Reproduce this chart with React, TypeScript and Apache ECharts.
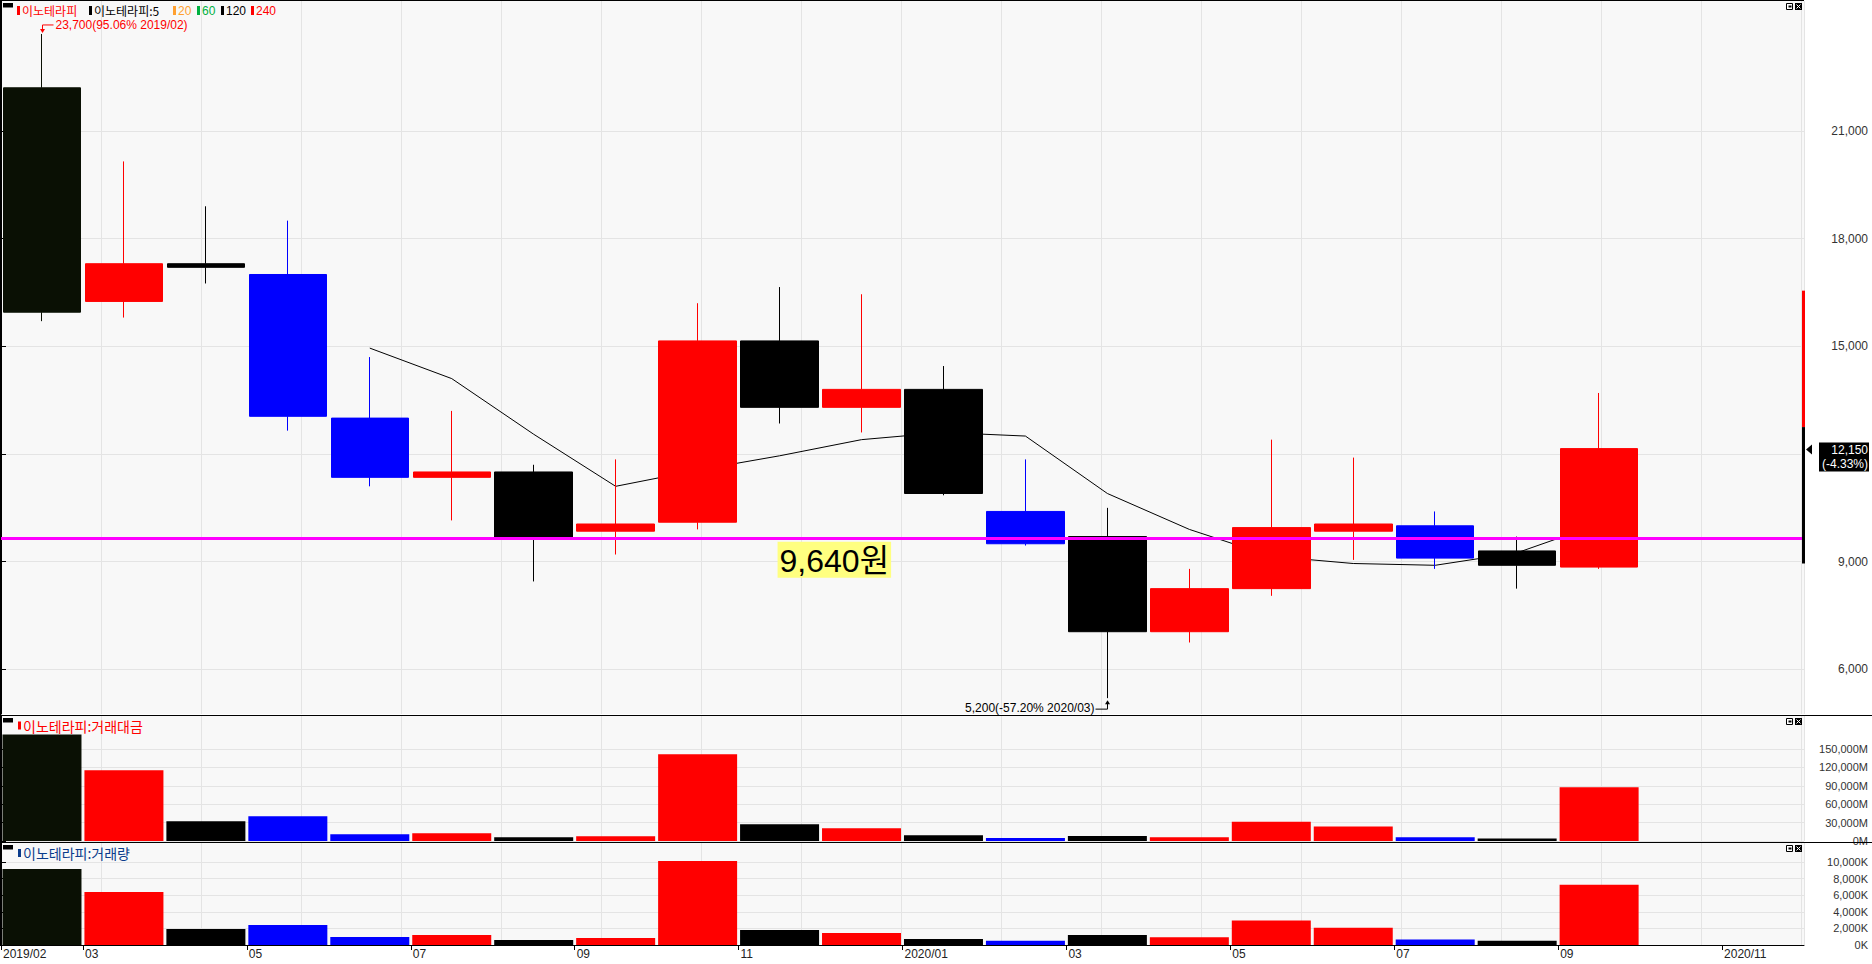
import React, { useEffect, useRef } from 'react';
import * as echarts from 'echarts';

// ---------- data ----------
const months = [
  '2019/02', '2019/03', '2019/04', '2019/05', '2019/06', '2019/07', '2019/08', '2019/09', '2019/10', '2019/11', '2019/12',
  '2020/01', '2020/02', '2020/03', '2020/04', '2020/05', '2020/06', '2020/07', '2020/08', '2020/09', '2020/10', '2020/11',
];
// labels at month boundaries (left edge of each month slot)
const tickLabels = ['2019/02', '03', '', '05', '', '07', '', '09', '', '11', '', '2020/01', '', '03', '', '05', '', '07', '', '09', '', '2020/11', ''];

const opens = [22200, 16250, 17300, 17000, 13000, 11350, 11500, 9850, 10100, 15150, 13300, 13800, 10400, 9700, 7050, 8250, 9850, 10000, 9300, 8850];
const closes = [15950, 17300, 17200, 13050, 11350, 11500, 9650, 10050, 15150, 13300, 13800, 10900, 9500, 7050, 8250, 9950, 10050, 9100, 8900, 12150];
const lows = [15700, 15800, 16750, 12650, 11100, 10150, 8450, 9200, 9900, 12850, 12600, 10850, 9450, 5200, 6750, 8050, 9050, 8800, 8250, 8800];
const highs = [23700, 20150, 18900, 18500, 14700, 13200, 11700, 11850, 16200, 16650, 16450, 14450, 11850, 10500, 8800, 12400, 11900, 10400, 9700, 13700];
const candleColors = [
  '#0a1004', '#ff0000', '#000000', '#0000ff', '#0000ff', '#ff0000', '#000000', '#ff0000', '#ff0000', '#000000',
  '#ff0000', '#000000', '#0000ff', '#000000', '#ff0000', '#ff0000', '#ff0000', '#0000ff', '#000000', '#ff0000',
];
const ma5 = [null, null, null, null, 14950, 14100, 12550, 11100, 11550, 11950, 12400, 12600, 12500, 10900, 9900, 9150, 8950, 8900, 9250, 10050];
// 거래대금 (백만원)
const tradeValue = [174000, 115300, 32100, 40300, 10900, 12500, 6000, 7700, 141400, 27200, 20700, 9300, 5000, 8000, 6000, 31300, 23500, 6000, 4100, 87800];
// 거래량 (천주)
const volume = [9160, 6390, 1930, 2410, 960, 1200, 600, 840, 10120, 1810, 1450, 720, 520, 1220, 940, 2950, 2080, 650, 500, 7260];

const priceTicks = [6000, 9000, 12000, 15000, 18000, 21000];
const priceLabels = [6000, 9000, 15000, 18000, 21000];
const valueTicks = [0, 30000, 60000, 90000, 120000, 150000];
const volumeTicks = [0, 2000, 4000, 6000, 8000, 10000];

const supportLevel = 9640;
const supportText = '9,640원';
const highMark = { idx: 0, value: 23700, text: '23,700(95.06% 2019/02)' };
const lowMark = { idx: 13, value: 5200, text: '5,200(-57.20% 2020/03)' };
const lastPrice = 12150;
const lastChange = '(-4.33%)';
const sideRange = [16550, 12750, 8950];

const legendMain = [
  { text: '이노테라피', color: '#ff0000', bar: '#ff0000', x: 17 },
  { text: '이노테라피:5', color: '#000000', bar: '#000000', x: 89 },
  { text: '20', color: '#ffa030', bar: '#ffa030', x: 173 },
  { text: '60', color: '#00b040', bar: '#00b040', x: 197 },
  { text: '120', color: '#000000', bar: '#000000', x: 221 },
  { text: '240', color: '#ff0000', bar: '#ff0000', x: 251 },
];
const legendValue = { text: '이노테라피:거래대금', color: '#ff0000' };
const legendVolume = { text: '이노테라피:거래량', color: '#0a3c8c' };

// ---------- layout ----------
const W = 1872;
const H = 964;
const GL = 1;
const GW = 1803;
const AX = GL + GW; // right axis x
const LBL = "'Liberation Sans', Arial, sans-serif";
const KR = "'Noto Sans CJK KR', 'Liberation Sans', sans-serif";
const GRID_COLOR = '#e4e4e4';
const fmt = (v: number) => Math.round(v).toLocaleString('en-US');

function buildOption(): any {
  const gridBase = { left: GL, width: GW, show: true, backgroundColor: '#f8f8f8', borderWidth: 0 };
  const hiddenCat = (gi: number) => ({
    type: 'category', gridIndex: gi, data: months, boundaryGap: true, show: false,
  });
  const vGrid = (gi: number) => ({
    type: 'value', gridIndex: gi, min: 0, max: GW, interval: 100, position: 'top',
    axisLine: { show: false }, axisTick: { show: false }, axisLabel: { show: false },
    splitLine: { show: true, lineStyle: { color: GRID_COLOR, width: 1 } },
  });
  const yAx = (gi: number, min: number, max: number, ticks: number[], labels: number[], suffix: string, size: number) => ({
    type: 'value', gridIndex: gi, position: 'right', min, max,
    axisLine: { show: true, lineStyle: { color: '#000', width: 1 } },
    axisTick: { show: true, inside: false, length: 5, customValues: ticks, lineStyle: { color: '#000' } },
    axisLabel: {
      show: true, customValues: labels, align: 'right', margin: 64,
      color: '#333', fontFamily: LBL, fontSize: size,
      formatter: (v: number) => fmt(v) + suffix,
    },
    splitLine: { show: true, lineStyle: { color: GRID_COLOR, width: 1 } },
  });

  const candleData = opens.map((o, i) => ({
    value: [o, closes[i], lows[i], highs[i]],
    itemStyle: {
      color: candleColors[i], color0: candleColors[i],
      borderColor: candleColors[i], borderColor0: candleColors[i], borderWidth: 1,
    },
  }));
  const barData = (arr: number[]) => arr.map((v, i) => ({ value: v, itemStyle: { color: candleColors[i] } }));

  return {
    animation: false,
    backgroundColor: '#ffffff',
    grid: [
      { ...gridBase, top: 1, height: 713 },
      { ...gridBase, top: 716, height: 125 },
      { ...gridBase, top: 843, height: 102 },
    ],
    xAxis: [
      hiddenCat(0), hiddenCat(1), hiddenCat(2),
      vGrid(0), vGrid(1), vGrid(2),
      {
        type: 'category', gridIndex: 2, data: tickLabels, boundaryGap: false, position: 'bottom',
        axisLine: { show: true, lineStyle: { color: '#000', width: 1 } },
        axisTick: { show: true, length: 5, interval: (i: number, v: string) => v !== '', lineStyle: { color: '#000' } },
        axisLabel: {
          show: true, interval: 0, align: 'left', margin: 3, padding: [0, 0, 0, 2],
          color: '#222', fontFamily: LBL, fontSize: 12,
        },
        splitLine: { show: false },
      },
    ],
    yAxis: [
      yAx(0, 4758, 24618, priceTicks, priceLabels, '', 12),
      yAx(1, 0, 204000, valueTicks, valueTicks, 'M', 11),
      yAx(2, 0, 12300, volumeTicks, volumeTicks, 'K', 11),
    ],
    series: [
      {
        type: 'candlestick', name: '이노테라피', xAxisIndex: 0, yAxisIndex: 0, z: 3,
        barWidth: 78, data: candleData,
        markLine: {
          silent: true, symbol: ['none', 'none'], label: { show: false },
          lineStyle: { color: '#ff00ff', width: 3, type: 'solid' },
          data: [{ yAxis: supportLevel }],
        },
      },
      {
        type: 'line', name: '이노테라피:5', xAxisIndex: 0, yAxisIndex: 0, z: 2,
        data: ma5, symbol: 'none', connectNulls: false,
        lineStyle: { color: '#000000', width: 1 },
      },
      {
        type: 'bar', name: '거래대금', xAxisIndex: 1, yAxisIndex: 1, barWidth: 79, data: barData(tradeValue),
      },
      {
        type: 'bar', name: '거래량', xAxisIndex: 2, yAxisIndex: 2, barWidth: 79, data: barData(volume),
      },
    ],
  };
}

function buildGraphics(chart: any): any[] {
  const g: any[] = [];
  const px = (i: number, v: number) => chart.convertToPixel({ seriesIndex: 0 }, [i, v]) as number[];
  const line = (x1: number, y1: number, x2: number, y2: number, stroke = '#000', lw = 1) =>
    g.push({ type: 'line', silent: true, z: 100, shape: { x1, y1, x2, y2 }, style: { stroke, lineWidth: lw } });
  const rect = (x: number, y: number, w: number, h: number, fill: string, stroke?: string) =>
    g.push({ type: 'rect', silent: true, z: 100, shape: { x, y, width: w, height: h }, style: { fill, stroke: stroke || null, lineWidth: 1 } });
  const text = (x: number, y: number, t: string, fill: string, size: number, family: string, align = 'left', vAlign = 'middle', extra: any = {}) =>
    g.push({ type: 'text', silent: true, z: 101, x, y, style: { text: t, fill, fontSize: size, fontFamily: family, align, verticalAlign: vAlign, ...extra } });

  // frame and panel separators
  line(0.5, 0, 0.5, 946);
  line(0, 0.5, AX, 0.5);
  line(0, 715.5, W, 715.5);
  line(0, 842.5, W, 842.5);

  // panel legends
  const panelLegend = (top: number) => rect(3, top + 2.5, 10, 4.5, '#000');
  panelLegend(0.5);
  legendMain.forEach((it) => {
    rect(it.x, 6, 3, 9, it.bar);
    const isKr = /[가-힣]/.test(it.text);
    text(it.x + 5, 10.5, it.text, it.color, 12, isKr ? KR : LBL);
  });
  panelLegend(715.5);
  rect(18, 721.5, 3, 8, legendValue.color);
  text(23, 725.5, legendValue.text, legendValue.color, 14, KR);
  panelLegend(842.5);
  rect(18, 849, 3, 8, legendVolume.color);
  text(23, 853, legendVolume.text, legendVolume.color, 14, KR);

  // window icons at the top right of each panel
  [3.5, 718.5, 845.5].forEach((y) => {
    rect(1786.5, y, 6, 6, '#fff', '#000');
    rect(1788.5, y + 2, 3, 2, '#000');
    rect(1795, y - 0.5, 7, 7, '#000');
    line(1796.5, y + 1, 1800.5, y + 5, '#fff');
    line(1800.5, y + 1, 1796.5, y + 5, '#fff');
  });

  // high annotation
  {
    const [x, y] = px(highMark.idx, highMark.value);
    const xc = Math.round(x) + 0.5;
    line(xc, y - 9, xc, y - 3, '#ff0000');
    line(xc, y - 9, xc + 11, y - 9, '#ff0000');
    g.push({ type: 'polygon', silent: true, z: 100, shape: { points: [[xc - 2.5, y - 5], [xc + 2.5, y - 5], [xc, y - 1]] }, style: { fill: '#ff0000' } });
    text(xc + 13, y - 9, highMark.text, '#ff0000', 12, LBL);
  }
  // low annotation
  {
    const [x, y] = px(lowMark.idx, lowMark.value);
    const xc = Math.round(x) + 0.5;
    g.push({ type: 'polygon', silent: true, z: 100, shape: { points: [[xc - 2.5, y + 6], [xc + 2.5, y + 6], [xc, y + 2]] }, style: { fill: '#000' } });
    line(xc, y + 5, xc, y + 11);
    line(xc, y + 11, xc - 12, y + 11);
    text(xc - 13, y + 10, lowMark.text, '#000', 12, LBL, 'right');
  }

  // support level label
  {
    const [x, y] = px(9, supportLevel);
    text(x - 2, y + 3, supportText, '#000', 32, "'Liberation Sans', 'Noto Sans CJK KR', sans-serif", 'left', 'top', {
      backgroundColor: '#ffff80', padding: [2, 2, 0, 2], lineHeight: 34,
    });
  }

  // right side price range bar
  {
    const y0 = px(0, sideRange[0])[1];
    const y1 = px(0, sideRange[1])[1];
    const y2 = px(0, sideRange[2])[1];
    rect(AX - 2, y0, 3, y1 - y0, '#ff0000');
    rect(AX - 2, y1, 3, y2 - y1, '#000000');
  }

  // last price tag
  {
    const y = px(0, lastPrice)[1];
    g.push({ type: 'polygon', silent: true, z: 100, shape: { points: [[AX + 2, y + 1], [AX + 8, y - 4], [AX + 8, y + 6]] }, style: { fill: '#000' } });
    rect(1819, y - 6, 50, 29, '#000');
    text(1868, y + 1, fmt(lastPrice), '#fff', 12, LBL, 'right');
    text(1868, y + 15, lastChange, '#fff', 12, LBL, 'right');
  }
  return g;
}

export default function App() {
  const ref = useRef<HTMLDivElement>(null);
  useEffect(() => {
    document.body.style.margin = '0';
    const el = ref.current;
    if (!el) return;
    const chart = echarts.init(el, null, { renderer: 'svg' });
    chart.setOption(buildOption());
    chart.setOption({ graphic: buildGraphics(chart) });
    return () => chart.dispose();
  }, []);
  return <div ref={ref} style={{ width: W, height: H, background: '#fff' }} />;
}
